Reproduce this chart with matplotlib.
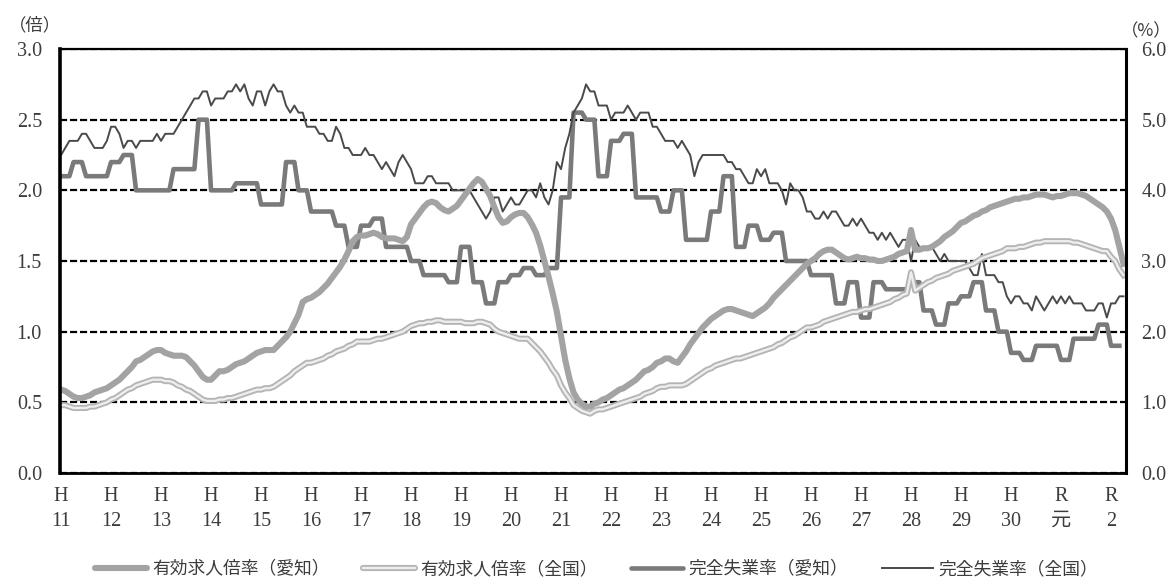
import numpy as np
import matplotlib
matplotlib.use("Agg")
import matplotlib.pyplot as plt
from matplotlib.lines import Line2D
from matplotlib.legend_handler import HandlerTuple

JP = ["Noto Sans CJK JP", "DejaVu Sans"]
SERIF = ["Liberation Serif", "Noto Sans CJK JP"]

# monthly, Jan 1999 (H11) .. Apr 2020 (R2)
nat_ratio = [
    0.48, 0.48, 0.47, 0.46, 0.46, 0.46, 0.46, 0.47, 0.47, 0.48, 0.49, 0.50,
    0.52, 0.53, 0.55, 0.57, 0.59, 0.60, 0.62, 0.63, 0.64, 0.65, 0.66, 0.66,
    0.66, 0.65, 0.65, 0.64, 0.62, 0.61, 0.59, 0.58, 0.56, 0.54, 0.52, 0.51,
    0.51, 0.51, 0.52, 0.52, 0.53, 0.53, 0.54, 0.55, 0.56, 0.57, 0.58, 0.59,
    0.59, 0.60, 0.60, 0.61, 0.63, 0.65, 0.67, 0.69, 0.72, 0.74, 0.76, 0.78,
    0.78, 0.79, 0.80, 0.81, 0.83, 0.84, 0.86, 0.87, 0.88, 0.90, 0.91, 0.93,
    0.93, 0.93, 0.93, 0.94, 0.95, 0.95, 0.96, 0.97, 0.98, 0.99, 1.00, 1.02,
    1.04, 1.05, 1.06, 1.06, 1.07, 1.07, 1.08, 1.08, 1.07, 1.07, 1.07, 1.07,
    1.07, 1.06, 1.06, 1.06, 1.07, 1.07, 1.06, 1.05, 1.02, 1.00, 0.99, 0.98,
    0.97, 0.96, 0.95, 0.95, 0.95, 0.92, 0.89, 0.86, 0.82, 0.78, 0.73, 0.69,
    0.62, 0.57, 0.53, 0.48, 0.46, 0.44, 0.43, 0.42, 0.44, 0.45, 0.45, 0.46,
    0.47, 0.48, 0.49, 0.50, 0.51, 0.52, 0.53, 0.54, 0.56, 0.57, 0.58, 0.60,
    0.61, 0.61, 0.62, 0.62, 0.62, 0.62, 0.63, 0.65, 0.67, 0.69, 0.71, 0.73,
    0.74, 0.76, 0.77, 0.78, 0.79, 0.80, 0.81, 0.81, 0.82, 0.83, 0.84, 0.85,
    0.86, 0.87, 0.88, 0.89, 0.91, 0.92, 0.94, 0.96, 0.97, 0.99, 1.01, 1.03,
    1.03, 1.04, 1.05, 1.07, 1.08, 1.09, 1.10, 1.11, 1.12, 1.13, 1.14, 1.14,
    1.15, 1.16, 1.16, 1.17, 1.18, 1.19, 1.20, 1.21, 1.23, 1.24, 1.26, 1.27,
    1.42, 1.29, 1.31, 1.33, 1.35, 1.36, 1.38, 1.39, 1.40, 1.41, 1.43, 1.44,
    1.45, 1.46, 1.47, 1.48, 1.50, 1.52, 1.53, 1.54, 1.55, 1.56, 1.57, 1.59,
    1.59, 1.59, 1.60, 1.60, 1.61, 1.62, 1.63, 1.63, 1.64, 1.64, 1.64, 1.64,
    1.64, 1.64, 1.64, 1.63, 1.63, 1.62, 1.61, 1.60, 1.59, 1.58, 1.57, 1.57,
    1.53, 1.50, 1.44, 1.40,
]

aichi_ratio = [
    0.59, 0.58, 0.56, 0.54, 0.53, 0.53, 0.54, 0.55, 0.57, 0.58, 0.59, 0.60,
    0.62, 0.64, 0.66, 0.69, 0.72, 0.75, 0.79, 0.80, 0.82, 0.84, 0.86, 0.87,
    0.87, 0.85, 0.84, 0.83, 0.83, 0.83, 0.82, 0.79, 0.76, 0.72, 0.68, 0.66,
    0.66, 0.69, 0.72, 0.72, 0.73, 0.75, 0.77, 0.78, 0.79, 0.81, 0.83, 0.85,
    0.86, 0.87, 0.87, 0.87, 0.90, 0.93, 0.96, 1.00, 1.06, 1.12, 1.21, 1.23,
    1.24, 1.26, 1.28, 1.31, 1.34, 1.38, 1.42, 1.46, 1.51, 1.57, 1.64, 1.67,
    1.68, 1.68, 1.69, 1.70, 1.69, 1.67, 1.66, 1.66, 1.66, 1.65, 1.64, 1.67,
    1.76, 1.80, 1.84, 1.88, 1.91, 1.92, 1.91, 1.88, 1.86, 1.85, 1.87, 1.89,
    1.93, 1.97, 2.01, 2.05, 2.08, 2.06, 2.01, 1.96, 1.88, 1.81, 1.77, 1.78,
    1.81, 1.83, 1.84, 1.84, 1.81, 1.76, 1.70, 1.61, 1.50, 1.39, 1.27, 1.14,
    0.97, 0.80, 0.67, 0.57, 0.52, 0.49, 0.47, 0.47, 0.49, 0.50, 0.52, 0.53,
    0.55, 0.57, 0.59, 0.60, 0.62, 0.64, 0.66, 0.69, 0.72, 0.73, 0.75, 0.78,
    0.79, 0.81, 0.81, 0.79, 0.78, 0.82, 0.86, 0.91, 0.95, 0.99, 1.03, 1.06,
    1.09, 1.11, 1.13, 1.15, 1.16, 1.16, 1.15, 1.14, 1.13, 1.12, 1.11, 1.13,
    1.15, 1.17, 1.20, 1.24, 1.27, 1.30, 1.33, 1.36, 1.39, 1.42, 1.45, 1.48,
    1.50, 1.52, 1.55, 1.57, 1.58, 1.58, 1.56, 1.54, 1.52, 1.51, 1.52, 1.53,
    1.52, 1.52, 1.51, 1.51, 1.50, 1.50, 1.51, 1.52, 1.53, 1.55, 1.56, 1.57,
    1.72, 1.58, 1.58, 1.59, 1.59, 1.60, 1.62, 1.64, 1.67, 1.69, 1.71, 1.74,
    1.77, 1.78, 1.80, 1.82, 1.83, 1.85, 1.86, 1.88, 1.89, 1.90, 1.91, 1.92,
    1.93, 1.94, 1.94, 1.95, 1.95, 1.96, 1.97, 1.97, 1.97, 1.96, 1.95, 1.96,
    1.96, 1.97, 1.98, 1.98, 1.98, 1.97, 1.96, 1.94, 1.92, 1.90, 1.88, 1.85,
    1.80, 1.72, 1.60, 1.48,
]

nat_unemp = [
    4.5, 4.6, 4.7, 4.7, 4.7, 4.8, 4.8, 4.7, 4.6, 4.6, 4.6, 4.7,
    4.9, 4.9, 4.8, 4.6, 4.7, 4.7, 4.6, 4.7, 4.7, 4.7, 4.7, 4.8,
    4.7, 4.8, 4.8, 4.8, 4.9, 5.0, 5.1, 5.2, 5.3, 5.3, 5.4, 5.4,
    5.2, 5.3, 5.3, 5.3, 5.4, 5.4, 5.5, 5.4, 5.5, 5.3, 5.2, 5.4,
    5.4, 5.2, 5.4, 5.5, 5.4, 5.4, 5.2, 5.1, 5.2, 5.1, 5.1, 4.9,
    4.9, 4.9, 4.8, 4.8, 4.7, 4.7, 4.9, 4.8, 4.6, 4.6, 4.5, 4.5,
    4.5, 4.6, 4.5, 4.5, 4.4, 4.3, 4.4, 4.3, 4.2, 4.4, 4.5, 4.4,
    4.3, 4.1, 4.1, 4.1, 4.2, 4.2, 4.1, 4.1, 4.1, 4.1, 4.0, 4.0,
    4.0, 4.0, 4.0, 3.9, 3.8, 3.7, 3.6, 3.7, 3.9, 3.9, 3.7, 3.8,
    3.9, 3.8, 3.8, 3.9, 4.0, 4.0, 3.9, 4.1, 3.9, 3.8, 4.0, 4.4,
    4.3, 4.6, 4.8, 5.1, 5.2, 5.3, 5.5, 5.4, 5.4, 5.2, 5.2, 5.2,
    5.0, 5.1, 5.1, 5.1, 5.2, 5.1, 5.0, 5.1, 5.1, 5.1, 4.9, 4.9,
    4.8, 4.7, 4.7, 4.7, 4.6, 4.7, 4.6, 4.5, 4.2, 4.4, 4.5, 4.5,
    4.5, 4.5, 4.5, 4.5, 4.4, 4.4, 4.3, 4.3, 4.2, 4.1, 4.1, 4.3,
    4.2, 4.3, 4.1, 4.1, 4.1, 4.0, 3.8, 4.1, 4.0, 4.0, 3.9, 3.7,
    3.7, 3.6, 3.6, 3.7, 3.6, 3.7, 3.7, 3.6, 3.5, 3.5, 3.6, 3.5,
    3.6, 3.5, 3.4, 3.4, 3.3, 3.4, 3.3, 3.4, 3.3, 3.2, 3.3, 3.3,
    3.0, 3.3, 3.2, 3.2, 3.2, 3.2, 3.1, 3.0, 3.1, 3.0, 3.0, 3.0,
    3.0, 3.0, 2.9, 2.8, 2.8, 3.1, 2.8, 2.8, 2.8, 2.7, 2.7, 2.5,
    2.4, 2.5, 2.5, 2.4, 2.4, 2.3, 2.5, 2.4, 2.3, 2.4, 2.5, 2.4,
    2.5, 2.4, 2.5, 2.4, 2.4, 2.4, 2.3, 2.3, 2.3, 2.4, 2.4, 2.2,
    2.4, 2.4, 2.5, 2.5,
]

# quarterly, 1999 Q1 .. 2020 Q1
aichi_unemp = [
    4.2, 4.4, 4.2, 4.2,
    4.4, 4.5, 4.0, 4.0,
    4.0, 4.3, 4.3, 5.0,
    4.0, 4.0, 4.1, 4.1,
    3.8, 3.8, 4.4, 4.0,
    3.7, 3.7, 3.5, 3.2,
    3.5, 3.6, 3.2, 3.2,
    3.0, 2.8, 2.8, 2.7,
    3.2, 2.7, 2.4, 2.7,
    2.8, 2.9, 2.8, 2.9,
    3.9, 5.1, 5.0, 4.2,
    4.7, 4.8, 3.9, 3.9,
    3.7, 4.0, 3.3, 3.3,
    3.7, 4.2, 3.2, 3.5,
    3.3, 3.4, 3.0, 3.0,
    2.8, 2.8, 2.4, 2.7,
    2.2, 2.7, 2.6, 2.6,
    2.7, 2.3, 2.1, 2.4,
    2.5, 2.7, 2.3, 2.0,
    1.7, 1.6, 1.8, 1.8,
    1.6, 1.9, 1.9, 2.1,
    1.8,
]

year_labels = ["H\n11", "H\n12", "H\n13", "H\n14", "H\n15", "H\n16", "H\n17",
               "H\n18", "H\n19", "H\n20", "H\n21", "H\n22", "H\n23", "H\n24",
               "H\n25", "H\n26", "H\n27", "H\n28", "H\n29", "H\n30",
               "R\n元", "R\n2"]

legend_labels = ["有効求人倍率（愛知）", "有効求人倍率（全国）",
                 "完全失業率（愛知）", "完全失業率（全国）"]

c_aichi_ratio = "#a3a3a3"
c_nat_out, c_nat_in = "#b4b4b4", "#eeeeee"
c_aichi_unemp = "#7a7a7a"
c_nat_unemp = "#4a4a4a"
c_text = "#3c3c3c"

months = np.arange(len(nat_ratio))
aichi_unemp_m = np.repeat(aichi_unemp, 3)
q_months = np.arange(len(aichi_unemp_m))

fig = plt.figure(figsize=(11.7, 5.8), dpi=100)
ax = fig.add_axes([0.0513, 0.1845, 0.9111, 0.731])
ax2 = ax.twinx()
ax.set_zorder(ax2.get_zorder() + 1)
ax.patch.set_visible(False)

# dashed reference lines, under everything
ax2.set_ylim(0, 6)
ax2.set_yticks(np.arange(0, 6.1, 1.0))
ax2.set_yticklabels([f"{v:.1f}" for v in np.arange(0, 6.1, 1.0)])
ax2.set_axisbelow(True)
ax2.grid(axis="y", color="black", lw=1.6, linestyle=(0, (3.2, 1.3)))

# unemployment rates (right axis)
ax2.plot(q_months, aichi_unemp_m, color=c_aichi_unemp, lw=3.3,
         solid_joinstyle="round")
ax2.plot(months, nat_unemp, color=c_nat_unemp, lw=1.4)

# job-offers-to-applicants ratios (left axis)
ax.plot(months, nat_ratio, color=c_nat_out, lw=4.4, solid_joinstyle="round")
ax.plot(months, nat_ratio, color=c_nat_in, lw=1.7)
ax.plot(months, aichi_ratio, color=c_aichi_ratio, lw=4.4,
        solid_joinstyle="round")

ax.set_xlim(-0.25, 255.6)
ax.set_ylim(0, 3)
ax.set_yticks(np.arange(0, 3.01, 0.5))
ax.set_yticklabels([f"{v:.1f}" for v in np.arange(0, 3.01, 0.5)])
ax.set_xticks(np.arange(0, 12 * len(year_labels), 12))
ax.set_xticklabels(year_labels)

for a in (ax, ax2):
    a.tick_params(length=0, labelsize=14.5, labelcolor=c_text)
ax.tick_params(axis="y", pad=13)
ax.tick_params(axis="x", pad=10)
ax2.tick_params(axis="y", pad=11)
for lab in ax.get_xticklabels():
    lab.set_linespacing(1.45)
    lab.set_fontfamily(SERIF)
for lab in ax.get_yticklabels() + ax2.get_yticklabels():
    lab.set_fontfamily(SERIF)

for s in ax2.spines.values():
    s.set_visible(False)
widths = {"left": 2.6, "right": 2.2, "top": 1.6, "bottom": 2.0}
for k, w in widths.items():
    ax.spines[k].set_linewidth(w)
    ax.spines[k].set_color("black")

fig.text(0.008, 0.957, "（倍）", fontsize=12.5, family=JP, color=c_text,
         ha="left", va="center")
fig.text(0.958, 0.946, "（%）", fontsize=12.5, family=JP, color=c_text,
         ha="left", va="center")

h1 = Line2D([], [], color=c_aichi_ratio, lw=4.4, solid_capstyle="round")
h2 = (Line2D([], [], color=c_nat_out, lw=4.4, solid_capstyle="round"),
      Line2D([], [], color=c_nat_in, lw=1.7))
h3 = Line2D([], [], color=c_aichi_unemp, lw=3.3, solid_capstyle="round")
h4 = Line2D([], [], color=c_nat_unemp, lw=1.4)
leg = fig.legend([h1, h2, h3, h4], legend_labels, loc="lower center",
                 bbox_to_anchor=(0.51, 0.0), ncol=4, frameon=False,
                 handlelength=2.9, handletextpad=0.3, columnspacing=1.9,
                 borderaxespad=0.0, borderpad=0.1,
                 handler_map={tuple: HandlerTuple(ndivide=1)},
                 prop={"family": JP, "size": 12.8})
for t in leg.get_texts():
    t.set_color(c_text)

fig.savefig("out.png", dpi=100)
